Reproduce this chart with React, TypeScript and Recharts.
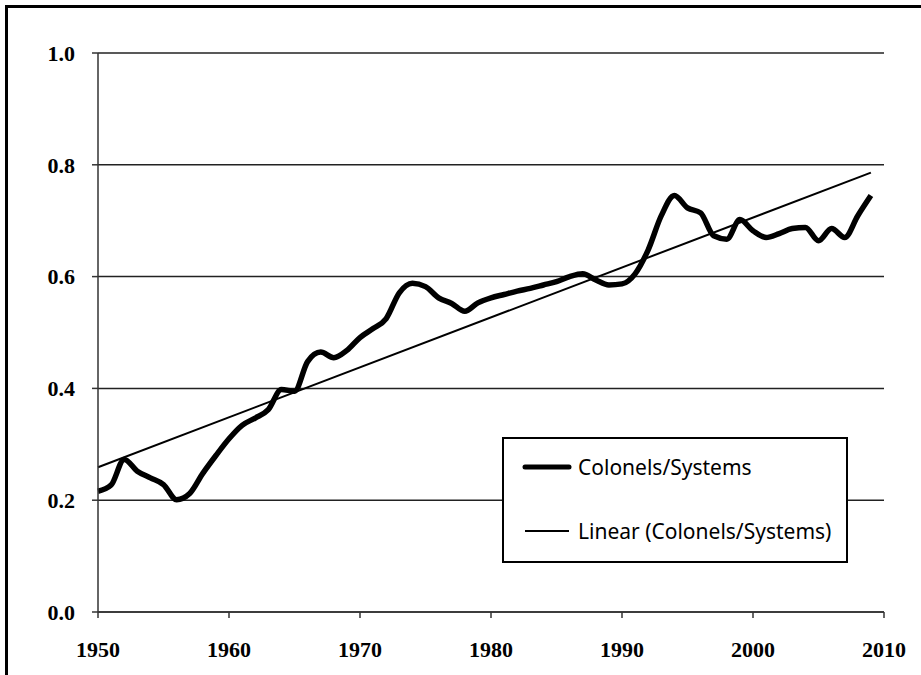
import React from 'react'
import { LineChart, Line, XAxis, YAxis, CartesianGrid, Legend } from 'recharts'

const YEARS = [
  1950, 1951, 1952, 1953, 1954, 1955, 1956, 1957, 1958, 1959,
  1960, 1961, 1962, 1963, 1964, 1965, 1966, 1967, 1968, 1969,
  1970, 1971, 1972, 1973, 1974, 1975, 1976, 1977, 1978, 1979,
  1980, 1981, 1982, 1983, 1984, 1985, 1986, 1987, 1988, 1989,
  1990, 1991, 1992, 1993, 1994, 1995, 1996, 1997, 1998, 1999,
  2000, 2001, 2002, 2003, 2004, 2005, 2006, 2007, 2008, 2009,
]

const RATIO = [
  0.216, 0.227, 0.273, 0.252, 0.240, 0.228, 0.201, 0.212, 0.248, 0.280,
  0.310, 0.334, 0.347, 0.362, 0.398, 0.395, 0.448, 0.465, 0.455, 0.468,
  0.491, 0.507, 0.525, 0.571, 0.588, 0.582, 0.562, 0.552, 0.538, 0.553,
  0.562, 0.568, 0.574, 0.579, 0.585, 0.591, 0.600, 0.605, 0.594, 0.585,
  0.587, 0.605, 0.648, 0.709, 0.745, 0.723, 0.714, 0.673, 0.667, 0.702,
  0.682, 0.670, 0.677, 0.686, 0.688, 0.664, 0.686, 0.670, 0.709, 0.745,
]

// linear trend endpoints (first / last year)
const TREND_YEARS = [1950, 2009]
const TREND_VALUES = [0.259, 0.786]

const X_TICKS = [1950, 1960, 1970, 1980, 1990, 2000, 2010]
const Y_TICKS = [0, 0.2, 0.4, 0.6, 0.8, 1.0]

const SERIES_NAME = 'Colonels/Systems'
const TREND_NAME = 'Linear (Colonels/Systems)'

const data = YEARS.map((year, i) => {
  const t = TREND_YEARS.indexOf(year)
  return {
    year,
    ratio: RATIO[i],
    trend: t >= 0 ? TREND_VALUES[t] : undefined,
  }
})

const tickFont = {
  fontFamily: '"Liberation Serif", serif',
  fontWeight: 700,
  fontSize: 22,
  fill: '#000',
}

const LegendBox = () => (
  <div
    style={{
      width: '100%',
      height: '100%',
      boxSizing: 'border-box',
      border: '2px solid #000',
      background: '#fff',
      fontFamily: '"Noto Sans", sans-serif',
      fontSize: 21,
      color: '#000',
      position: 'relative',
    }}
  >
    <div style={{ position: 'absolute', left: 18, top: 14, display: 'flex', alignItems: 'center' }}>
      <svg width={50} height={10}>
        <line x1={3} y1={5} x2={47} y2={5} stroke="#000" strokeWidth={5} strokeLinecap="round" />
      </svg>
      <span style={{ marginLeft: 6 }}>{SERIES_NAME}</span>
    </div>
    <div style={{ position: 'absolute', left: 18, top: 78, display: 'flex', alignItems: 'center' }}>
      <svg width={50} height={10}>
        <line x1={3} y1={5} x2={47} y2={5} stroke="#000" strokeWidth={2} />
      </svg>
      <span style={{ marginLeft: 6 }}>{TREND_NAME}</span>
    </div>
  </div>
)

export default function App() {
  return (
    <div style={{ position: 'fixed', left: 0, top: 0, width: 921, height: 675, background: '#fff', overflow: 'hidden' }}>
      <div
        style={{
          position: 'absolute',
          left: 5,
          top: 5,
          right: 0,
          bottom: 0,
          borderTop: '3px solid #000',
          borderLeft: '3px solid #000',
        }}
      />
      <div style={{ position: 'absolute', left: 0, top: 0 }}>
        <LineChart width={921} height={675} data={data} margin={{ top: 53, right: 37, bottom: 23, left: 38 }}>
          <CartesianGrid vertical={false} stroke="#222" strokeWidth={1.5} />
          <XAxis
            dataKey="year"
            type="number"
            domain={[1950, 2010]}
            ticks={X_TICKS}
            tick={tickFont}
            tickSize={6}
            tickMargin={23}
            height={40}
            axisLine={{ stroke: '#333', strokeWidth: 1.5 }}
            tickLine={{ stroke: '#333', strokeWidth: 1.5 }}
          />
          <YAxis
            type="number"
            domain={[0, 1]}
            ticks={Y_TICKS}
            tickFormatter={(v: number) => v.toFixed(1)}
            tick={tickFont}
            tickSize={6}
            tickMargin={17}
            width={60}
            axisLine={{ stroke: '#333', strokeWidth: 1.5 }}
            tickLine={{ stroke: '#333', strokeWidth: 1.5 }}
          />
          <Legend
            layout="horizontal"
            verticalAlign="middle"
            align="center"
            content={<LegendBox />}
            wrapperStyle={{ position: 'absolute', left: 502, top: 437, width: 346, height: 126 }}
          />
          <Line
            dataKey="ratio"
            name={SERIES_NAME}
            type="monotone"
            stroke="#000"
            strokeWidth={5.5}
            strokeLinejoin="round"
            dot={false}
            isAnimationActive={false}
          />
          <Line
            dataKey="trend"
            name={TREND_NAME}
            type="linear"
            stroke="#000"
            strokeWidth={2}
            dot={false}
            connectNulls
            isAnimationActive={false}
          />
        </LineChart>
      </div>
    </div>
  )
}
